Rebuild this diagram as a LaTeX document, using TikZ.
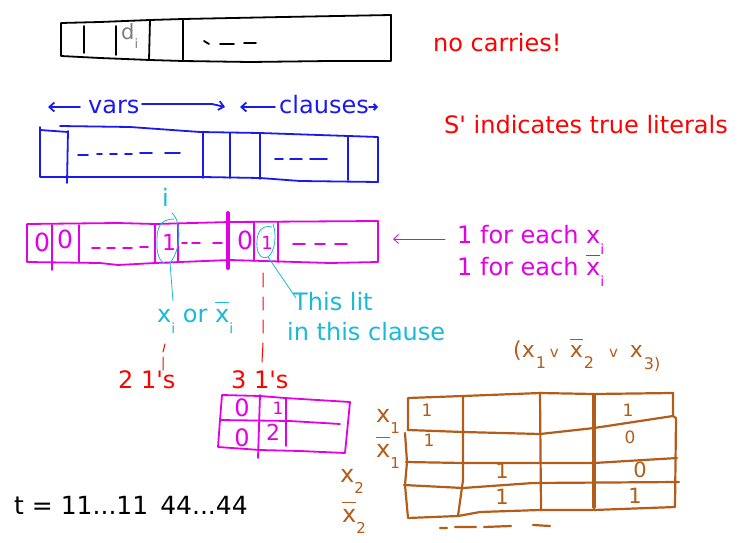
\documentclass[tikz,border=0pt]{standalone}
\usepackage{fontspec}
\setmainfont{DejaVu Sans}
\usetikzlibrary{arrows.meta}
\definecolor{cblue}{RGB}{25,25,240}
\definecolor{cmag}{RGB}{228,0,228}
\definecolor{ccyan}{RGB}{25,185,215}
\definecolor{cred}{RGB}{255,0,0}
\definecolor{cbrown}{RGB}{180,92,25}
\definecolor{cgray}{RGB}{125,125,125}
\newcommand\fs[1]{\fontsize{#1}{#1}\selectfont}
\newcommand\ovx{\leavevmode\rlap{\rule[0.78em]{0.58em}{0.06em}}x}
\newcommand\subi[1]{\raisebox{-11pt}{\fs{14}#1}}
\newcommand\subd[1]{\raisebox{-11pt}{\fs{15}#1}}
\newcommand\apo{\textquotesingle}
\begin{document}
\begin{tikzpicture}[x=1pt,y=-1pt,line join=round,line cap=round,
  txt/.style={anchor=base west,inner sep=0pt,font=\fs{24}},
  dig/.style={anchor=center,inner sep=0pt},
  pen/.style={line width=1.8pt},
  bpen/.style={line width=2.2pt,draw=cbrown},
  barb/.style={-{Straight Barb[length=5pt,width=9pt]}}]
\useasboundingbox (0,0) rectangle (752,543);

% ---------------- black box
\draw[pen] (61,23) -- (100,22) -- (150,20) -- (183,19) -- (283,17) -- (391,15)
  -- (391,61) -- (330,61) -- (250,62) -- (183,61) -- (150,60) -- (100,58) -- (61,56) -- cycle;
\draw[pen] (84,26) -- (84,53) (116,26) -- (116,55) (150,20) -- (149,60) (183,19) -- (183,61);
\draw[pen] (204,41) -- (209,44) (220,44) -- (234,44) (244,43) -- (256,43);
\node[txt,text=cgray,font=\fs{21}] (di) at (121,40) {d\raisebox{-9pt}{\fs{13}i}};
\node[txt,text=cred] (nocarry) at (433,52) {no carries!};

% ---------------- blue
\coordinate (va1) at (80,107); \coordinate (va0) at (48,107);
\coordinate (vb0) at (142,104); \coordinate (vb1) at (212,104); \coordinate (vb2) at (225,107);
\coordinate (ca1) at (275,107); \coordinate (ca0) at (240,107);
\coordinate (cb0) at (369,107); \coordinate (cb1) at (378,107);
\draw[pen,cblue,barb] (va1) -- (va0);
\draw[pen,cblue,barb] (vb0) -- (vb1) -- (vb2);
\draw[pen,cblue,barb] (ca1) -- (ca0);
\draw[pen,cblue,-{Straight Barb[length=3pt,width=6pt]}] (cb0) -- (cb1);
\node[txt,text=cblue] (vars) at (88,113) {vars};
\node[txt,text=cblue] (clauses) at (279,113) {clauses};
\draw[pen,cblue] (40,127) -- (40,177) -- (203,177) -- (260,178) -- (300,181) -- (378,182)
  -- (378,137) -- (260,133) -- (200,132) -- (130,127) -- (60,126);
\draw[pen,cblue] (40,130) -- (68,132);
\draw[pen,cblue] (68,131) -- (67,183) (203,132) -- (203,178) (230,133) -- (230,178)
  (260,133) -- (260,179) (348,136) -- (348,180);
\draw[pen,cblue] (78,155) -- (88,155) (97,154) -- (102,154) (110,154) -- (117,154)
  (125,154) -- (132,154) (140,153) -- (152,153) (165,153) -- (180,153);
\draw[pen,cblue] (275,159) -- (283,159) (290,159) -- (302,159) (310,159) -- (327,159);
\node[txt,text=cred] (sprime) at (444,133) {S\apo{} indicates true literals};

% ---------------- magenta row
\draw[pen,cmag] (27,224) -- (118,223) -- (155,224) -- (230,222) -- (378,221) -- (378,262)
  -- (330,263) -- (230,260) -- (155,263) -- (118,265) -- (100,263) -- (27,262) -- cycle;
\draw[pen,cmag] (52,225) -- (52,270) (79,225) -- (79,262) (155,224) -- (155,263)
  (178,224) -- (178,262) (254,222) -- (254,261) (278,222) -- (278,262);
\draw[line width=4pt,cmag] (228,213) -- (228,268);
\node[dig,text=cmag,font=\fs{25}] (m0a) at (42,242) {0};
\node[dig,text=cmag,font=\fs{25}] (m0b) at (65,239) {0};
\node[dig,text=cmag,font=\fs{22}] (m1a) at (169,242) {1};
\node[dig,text=cmag,font=\fs{25}] (m0c) at (245,240) {0};
\node[dig,text=cmag,font=\fs{18}] (m1b) at (267,243) {1};
\draw[pen,cmag] (92,248) -- (100,248) (107,248) -- (115,248) (123,248) -- (132,248) (140,247) -- (148,247);
\draw[pen,cmag] (182,243) -- (187,243) (192,243) -- (200,243) (213,243) -- (222,243);
\draw[pen,cmag] (293,244) -- (305,244) (315,244) -- (325,244) (335,244) -- (347,244);
\coordinate (pa0) at (445,239); \coordinate (pa1) at (393,239);
\draw[cmag,line width=0.8pt,-{Straight Barb[length=5pt,width=9pt]}] (pa0) -- (pa1);
\node[txt,text=cmag] (each1) at (457,243) {1 for each x\subi{i}};
\node[txt,text=cmag] (each2) at (457,275) {1 for each \ovx\subi{i}};

% ---------------- cyan
\node[txt,text=ccyan] (ci) at (162,206) {i};
\draw[ccyan,line width=0.8pt] (172,213) .. controls (182,222) and (181,250) .. (170,263)
  .. controls (162,266) and (156,258) .. (157,240)
  .. controls (157,228) and (160,219) .. (174,219);
\draw[ccyan,line width=0.8pt] (170,263) -- (173,301);
\draw[ccyan,line width=0.8pt] (273,224) .. controls (277,235) and (275,252) .. (268,257)
  .. controls (260,260) and (256,252) .. (257,240)
  .. controls (258,230) and (263,225) .. (272,227);
\draw[ccyan,line width=0.8pt] (268,257) -- (296,298);
\node[txt,text=ccyan] (xorx) at (157,322) {x\subi{i} or \ovx\subi{i}};
\node[txt,text=ccyan] (thislit) at (293,310) {This lit};
\node[txt,text=ccyan] (inclause) at (287,340) {in this clause};

% ---------------- red
\draw[cred,line width=1pt] (263,273) -- (263,287) (263,297) -- (263,310) (263,320) -- (263,333) (263,343) -- (262,362);
\draw[cred,line width=1pt] (165,344) -- (163,352) (163,357) -- (163,370);
\node[txt,text=cred] (two) at (118,388) {2 1\apo{}s};
\node[txt,text=cred] (three) at (231,388) {3 1\apo{}s};

% ---------------- small magenta table
\draw[pen,cmag] (222,395) -- (260,396) -- (285,398) -- (350,402) -- (345,453) -- (300,451)
  -- (260,450) -- (218,447) -- (220,420) -- cycle;
\draw[pen,cmag] (220,420) -- (290,421) -- (340,424);
\draw[pen,cmag] (260,395) -- (258,458) (286,399) -- (286,446);
\node[dig,text=cmag,font=\fs{24}] (s0a) at (242,408) {0};
\node[dig,text=cmag,font=\fs{17}] (s1) at (278,408) {1};
\node[dig,text=cmag,font=\fs{24}] (s0b) at (242,438) {0};
\node[dig,text=cmag,font=\fs{22}] (s2) at (273,432) {2};

% ---------------- t
\node[txt,font=\fs{25}] (t) at (14,514) {t = 11...11\hspace{12pt}44...44};

% ---------------- brown
\node[txt,text=cbrown,font=\fs{22}] (form) at (513,357)
  {(x\hspace{1pt}\raisebox{-11pt}{\fs{16}1}\hspace{4pt}{\fs{15}v}\hspace{11pt}\ovx\hspace{1pt}\raisebox{-11pt}{\fs{16}2}\hspace{15pt}{\fs{15}v}\hspace{12pt}x\hspace{1pt}\raisebox{-12pt}{\fs{16}3)}};
\draw[bpen] (408,430) -- (408,398) -- (463,396) -- (540,393) -- (594,394) -- (673,393)
  -- (673,416) -- (676,418) -- (675,507) -- (594,510) -- (540,510) -- (480,512) -- (458,516) -- (408,518) -- (405,485) -- (407,462) -- (405,433);
\draw[bpen] (408,430) -- (463,432) -- (540,434) -- (594,428) -- (673,416);
\draw[bpen] (406,462) -- (463,463) -- (594,463) -- (677,458);
\draw[bpen] (404,485) -- (463,488) -- (533,483) -- (679,482);
\draw[bpen] (463,396) -- (463,480) -- (458,516) (540,393) -- (541,510);
\draw[line width=4pt,cbrown] (594,395) -- (594,507);
\draw[bpen] (440,528) -- (447,528) (455,527) -- (476,527) (484,527) -- (511,526) (533,525) -- (550,526);
\node[dig,text=cbrown,font=\fs{17}] (b11) at (427,410) {1};
\node[dig,text=cbrown,font=\fs{17}] (b14) at (628,410) {1};
\node[dig,text=cbrown,font=\fs{17}] (b21) at (429,440) {1};
\node[dig,text=cbrown,font=\fs{17}] (b24) at (630,437) {0};
\node[dig,text=cbrown,font=\fs{21}] (b32) at (502,471) {1};
\node[dig,text=cbrown,font=\fs{21}] (b34) at (640,470) {0};
\node[dig,text=cbrown,font=\fs{21}] (b42) at (502,497) {1};
\node[dig,text=cbrown,font=\fs{21}] (b44) at (635,496) {1};
\node[txt,text=cbrown] (lx1) at (376,422) {x\subd{1}};
\node[txt,text=cbrown] (lnx1) at (376,457) {\ovx\subd{1}};
\node[txt,text=cbrown] (lx2) at (340,482) {x\subd{2}};
\node[txt,text=cbrown] (lnx2) at (342,522) {\ovx\subd{2}};
\end{tikzpicture}
\end{document}
